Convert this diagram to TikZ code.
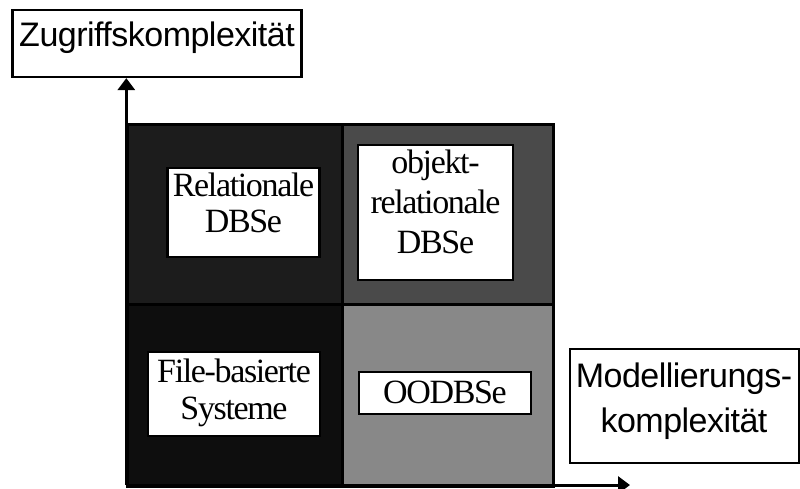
\documentclass[tikz,border=0pt]{standalone}
\usepackage{fontspec}
\setmainfont{Liberation Serif}
\newfontfamily\boxfont[LetterSpace=-4]{Liberation Serif}
\newfontfamily\axisfont[LetterSpace=-1.5]{Liberation Sans}
\usetikzlibrary{arrows.meta}
\definecolor{cellTL}{HTML}{1C1C1C}
\definecolor{cellTR}{HTML}{4A4A4A}
\definecolor{cellBL}{HTML}{0E0E0E}
\definecolor{cellBR}{HTML}{888888}
\begin{document}
\begin{tikzpicture}[x=1pt,y=-1pt,
  cell/.style={draw=black, line width=2.8pt, inner sep=0pt, anchor=north west},
  labelbox/.style={draw=black, fill=white, line width=2.2pt, inner sep=0pt},
  labeltext/.style={inner sep=0pt, align=center, font=\boxfont\fontsize{34}{#1}\selectfont},
  labeltext/.default=37,
  axisbox/.style={draw=black, fill=white, line width=2.2pt, inner sep=0pt},
  axistext/.style={inner sep=0pt, align=center, font=\axisfont\fontsize{34}{45}\selectfont},
  axisarrow/.style={line width=3pt, -{Triangle[length=12pt,width=17pt]}}]
\useasboundingbox (0,0) rectangle (800,488);
% quadrants
\node[cell, fill=cellTL, minimum width=215pt, minimum height=180pt] (tl) at (126,123) {};
\node[cell, fill=cellTR, minimum width=211pt, minimum height=180pt] (tr) at (341,123) {};
\node[cell, fill=cellBL, minimum width=215pt, minimum height=182pt] (bl) at (126,303) {};
\node[cell, fill=cellBR, minimum width=211pt, minimum height=182pt] (br) at (341,303) {};
% label boxes
\node[labelbox, minimum width=152pt, minimum height=89pt] (rel) at (243.5,212.5) {};
\node[labelbox, minimum width=155pt, minimum height=135pt] (ordb) at (435.5,212.5) {};
\node[labelbox, minimum width=172pt, minimum height=84pt] (file) at (234,394) {};
\node[labelbox, minimum width=172pt, minimum height=42pt] (oodb) at (445,393) {};
\node[labeltext=36] (reltext) at (243.5,203.3) {Relationale\\DBSe};
\node[labeltext=40] (ordbtext) at (435.5,202) {objekt-\\relationale\\DBSe};
\node[labeltext=37] (filetext) at (234,392.6) {File-basierte\\Systeme};
\node[labeltext, anchor=base] (oodbtext) at (445,403) {OODBSe};
% axis labels
\node[axisbox, minimum width=289pt, minimum height=67pt] (zug) at (157,43.5) {};
\node[axisbox, minimum width=229pt, minimum height=114pt] (mod) at (684.5,406) {};
\node[axistext, anchor=base] (zugtext) at (157,46.7) {Zugriffskomplexität};
\node[axistext] (modtext) at (684,401) {Modellierungs-\\komplexität};
% axes
\coordinate (origin) at (126.3,485);
\coordinate (xend) at (630,485);
\draw[axisarrow] (origin) -- (origin |- zug.south);
\draw[axisarrow] (origin) -- (xend);
\end{tikzpicture}
\end{document}
